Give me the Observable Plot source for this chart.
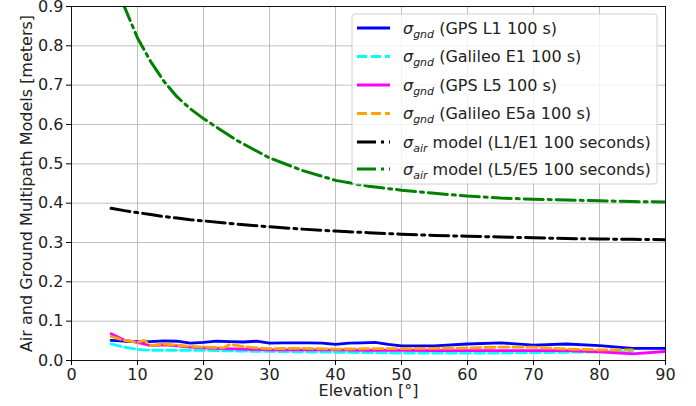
<!DOCTYPE html>
<html><head><meta charset="utf-8">
<script src="https://cdn.jsdelivr.net/npm/d3@7"></script>
<script src="https://cdn.jsdelivr.net/npm/@observablehq/plot@0.6"></script>
<style>body{margin:0;background:#fff;} #chart svg{font-family:"DejaVu Sans",sans-serif;}</style>
</head><body><div id="chart"></div><script>
// ---- data ----
const xTicks = [0, 10, 20, 30, 40, 50, 60, 70, 80, 90];
const yTicks = [0, 0.1, 0.2, 0.3, 0.4, 0.5, 0.6, 0.7, 0.8, 0.9];

const gpsL1El = [6, 8, 10, 12, 14, 16, 18, 20, 22, 24, 26, 28, 30, 32, 34, 36, 38, 40, 42, 44, 46, 48, 50, 55, 60, 65, 70, 75, 80, 85, 90];
const gpsL1 = [0.051, 0.049, 0.048, 0.048, 0.050, 0.049, 0.044, 0.046, 0.049, 0.048, 0.047, 0.049, 0.044, 0.045, 0.045, 0.045, 0.044, 0.041, 0.044, 0.045, 0.046, 0.041, 0.037, 0.037, 0.042, 0.045, 0.039, 0.042, 0.038, 0.031, 0.031];

const galE1El = [6, 8, 10, 12, 15, 20, 25, 30, 35, 40, 45, 50, 55, 60, 65, 70, 75, 80, 85];
const galE1 = [0.042, 0.034, 0.028, 0.026, 0.026, 0.026, 0.024, 0.023, 0.022, 0.021, 0.020, 0.019, 0.019, 0.019, 0.019, 0.020, 0.021, 0.022, 0.022];

const gpsL5El = [6, 8, 10, 12, 14, 16, 18, 20, 23, 26, 30, 35, 40, 45, 50, 55, 60, 65, 70, 75, 80, 85, 90];
const gpsL5 = [0.068, 0.052, 0.046, 0.038, 0.040, 0.037, 0.034, 0.032, 0.030, 0.029, 0.027, 0.027, 0.027, 0.026, 0.026, 0.025, 0.025, 0.025, 0.025, 0.025, 0.022, 0.017, 0.023];

const galE5aEl = [6, 8, 10, 11, 12, 14, 16, 18, 20, 22, 23, 24, 26, 28, 30, 35, 40, 45, 50, 55, 60, 65, 70, 75, 80, 85];
const galE5a = [0.061, 0.051, 0.046, 0.051, 0.038, 0.042, 0.039, 0.036, 0.034, 0.033, 0.032, 0.041, 0.036, 0.032, 0.030, 0.031, 0.029, 0.030, 0.030, 0.031, 0.032, 0.034, 0.034, 0.029, 0.027, 0.027];

const airEl = [6, 8, 10, 12, 14, 16, 18, 20, 25, 30, 35, 40, 45, 50, 55, 60, 65, 70, 75, 80, 85, 90];
const airL1 = [0.387, 0.381, 0.376, 0.371, 0.366, 0.362, 0.358, 0.355, 0.347, 0.340, 0.334, 0.329, 0.325, 0.321, 0.318, 0.316, 0.314, 0.312, 0.310, 0.309, 0.308, 0.307];
const airL5 = [0.985, 0.900, 0.820, 0.760, 0.710, 0.670, 0.640, 0.615, 0.560, 0.515, 0.483, 0.458, 0.443, 0.433, 0.425, 0.418, 0.413, 0.410, 0.408, 0.406, 0.404, 0.403];

const xLabel = "Elevation [°]";
const yLabel = "Air and Ground Multipath Models [meters]";

// ---- build ----
const rows = (els, vals) => els.map((e, i) => ({el: e, v: vals[i]}));
const FS = 16;

const lines = [
  {data: rows(gpsL1El, gpsL1), stroke: "#0000ff", dash: null, w: 2.8, sub: "gnd", label: " (GPS L1 100 s)"},
  {data: rows(galE1El, galE1), stroke: "#00ffff", dash: "10,4", w: 2.8, sub: "gnd", label: " (Galileo E1 100 s)"},
  {data: rows(gpsL5El, gpsL5), stroke: "#ff00ff", dash: null, w: 2.8, sub: "gnd", label: " (GPS L5 100 s)"},
  {data: rows(galE5aEl, galE5a), stroke: "#ffa500", dash: "10,4", w: 2.8, sub: "gnd", label: " (Galileo E5a 100 s)"},
  {data: rows(airEl, airL1), stroke: "#000000", dash: "19,5,3,5", w: 3, sub: "air", label: " model (L1/E1 100 seconds)"},
  {data: rows(airEl, airL5), stroke: "#008000", dash: "19,5,3,5", w: 3, sub: "air", label: " model (L5/E5 100 seconds)"}
];

const plot = Plot.plot({
  width: 696, height: 406,
  marginLeft: 71, marginRight: 31, marginTop: 6, marginBottom: 46,
  style: {fontFamily: "DejaVu Sans", fontSize: FS + "px", background: "#fff", overflow: "visible"},
  x: {domain: [0, 90]},
  y: {domain: [0, 0.9]},
  marks: [
    Plot.gridX(xTicks, {stroke: "#b0b0b0", strokeOpacity: 1, strokeWidth: 0.8}),
    Plot.gridY(yTicks, {stroke: "#b0b0b0", strokeOpacity: 1, strokeWidth: 0.8}),
    ...lines.map(s => Plot.line(s.data, {x: "el", y: "v", stroke: s.stroke, strokeWidth: s.w, strokeDasharray: s.dash, clip: true, strokeLinejoin: "round"})),
    Plot.frame({stroke: "#000", strokeWidth: 0.9}),
    Plot.axisX(xTicks, {tickSize: 5, tickPadding: 3, fontSize: FS, label: null, tickFormat: d3.format("d"), fill: "#222"}),
    Plot.axisY(yTicks, {tickSize: 5, tickPadding: 3, fontSize: FS, label: null, tickFormat: d3.format(".1f"), fill: "#222"}),
    Plot.text([xLabel], {frameAnchor: "bottom", dy: 35, fontSize: FS, fill: "#222", textAnchor: "middle"}),
    Plot.text([yLabel], {frameAnchor: "left", dx: -45, rotate: -90, fontSize: FS, fill: "#222", textAnchor: "middle"})
  ]
});
document.getElementById("chart").appendChild(plot);

// legend
const svg = d3.select(plot);
const lg = svg.append("g").attr("text-anchor", "start");
lg.append("rect").attr("x", 352).attr("y", 14).attr("width", 305).attr("height", 170)
  .attr("rx", 3).attr("fill", "#fff").attr("fill-opacity", 0.8).attr("stroke", "#d0d0d0");
const ys = [28, 56.5, 85, 113.5, 142, 169];
lines.forEach((s, i) => {
  const y = ys[i];
  lg.append("line").attr("x1", 357).attr("x2", 390).attr("y1", y).attr("y2", y)
    .attr("stroke", s.stroke).attr("stroke-width", s.w)
    .attr("stroke-dasharray", s.dash);
  const t = lg.append("text").attr("x", 403).attr("y", y).attr("dy", "0.35em")
    .attr("font-size", FS).attr("fill", "#222").attr("text-anchor", "start");
  t.append("tspan").attr("font-style", "italic").text("σ");
  t.append("tspan").attr("font-style", "italic").attr("font-size", 11).attr("dy", 4).text(s.sub);
  t.append("tspan").attr("dy", -4).text(s.label);
});
</script></body></html>
